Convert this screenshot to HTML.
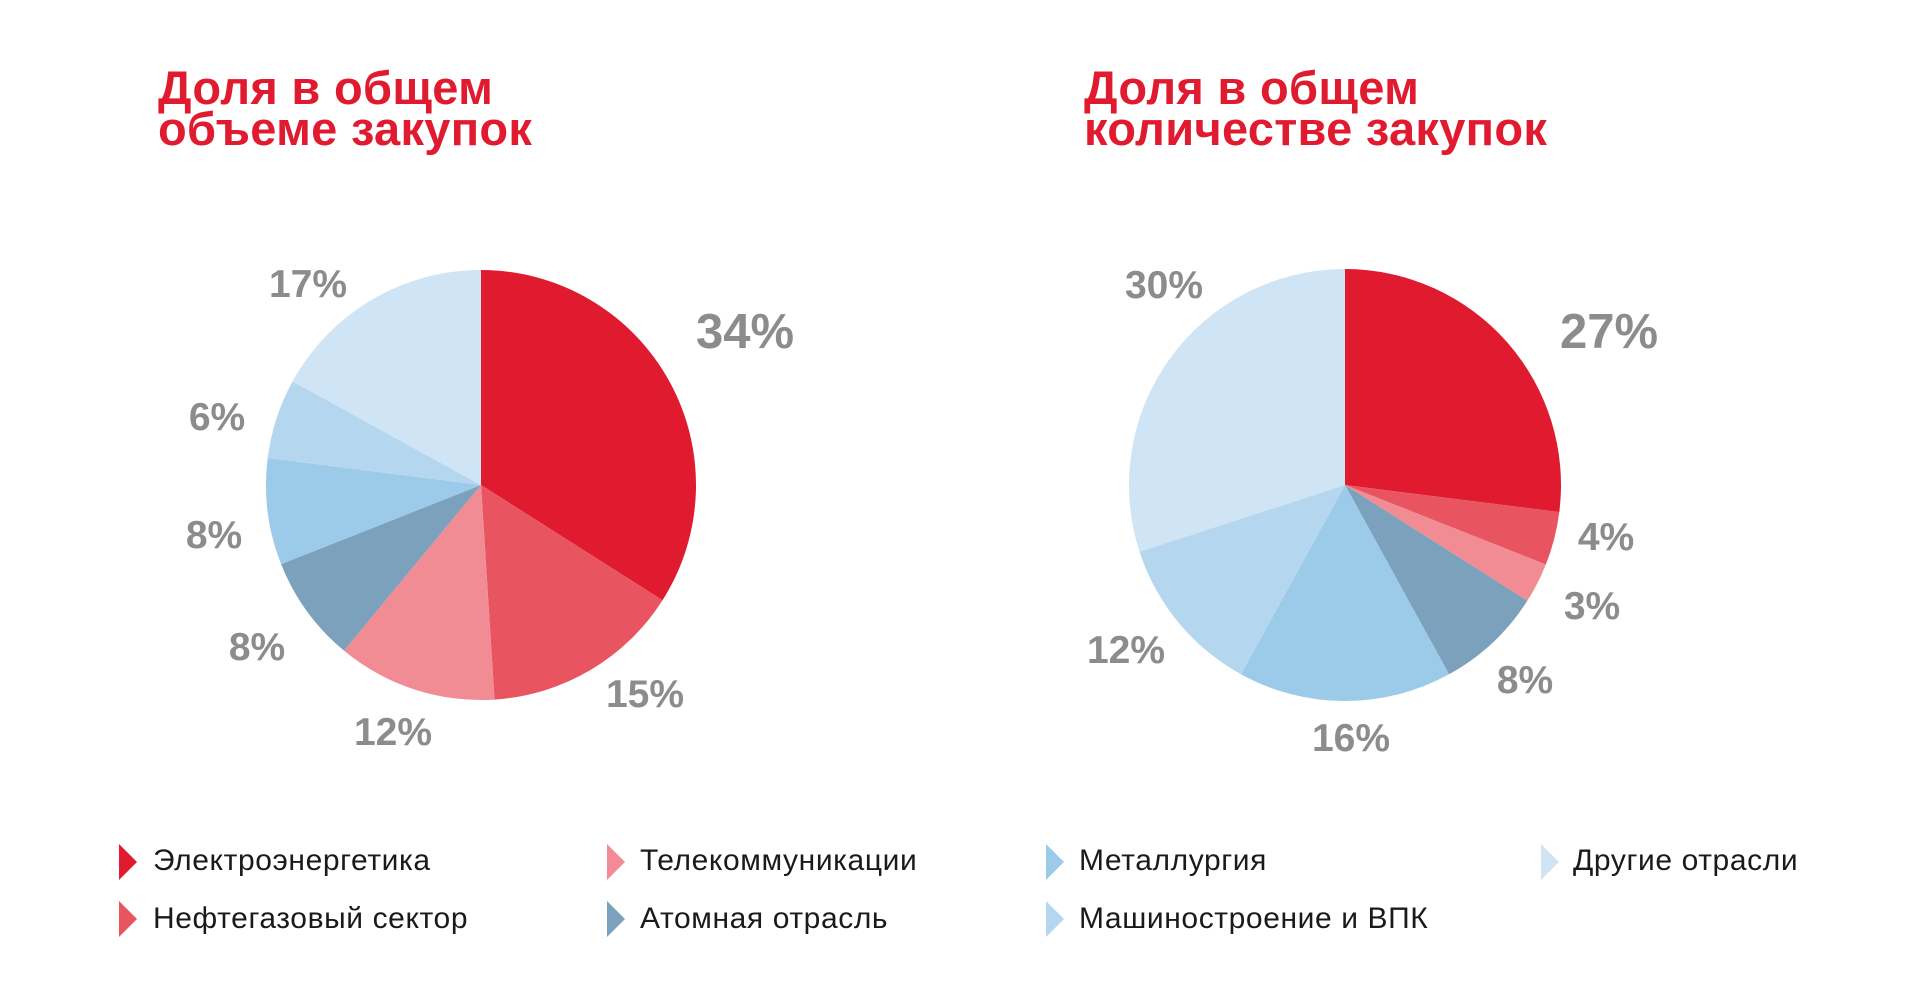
<!DOCTYPE html>
<html><head><meta charset="utf-8"><style>
html,body{margin:0;padding:0;background:#fff;}
svg{display:block}
.t{font-family:"Liberation Sans",sans-serif;font-weight:bold;fill:#e01a2f;font-size:47px;letter-spacing:0.3px}
.l{font-family:"Liberation Sans",sans-serif;font-weight:bold;fill:#8c8c8c;font-size:39px}
.g{font-family:"Liberation Sans",sans-serif;fill:#1a1a1a;font-size:30px;letter-spacing:0.6px}
</style></head><body>
<svg width="1917" height="986" viewBox="0 0 1917 986" xmlns="http://www.w3.org/2000/svg">
<text class="t" x="158" y="104">Доля в общем</text>
<text class="t" x="158" y="145">объеме закупок</text>
<text class="t" x="1084" y="104">Доля в общем</text>
<text class="t" x="1084" y="145">количестве закупок</text>
<g id="p1"></g><g id="p2"></g>
<text class="l" x="308" y="297" text-anchor="middle">17%</text>
<text class="l" x="745" y="348" text-anchor="middle" style="font-size:49px">34%</text>
<text class="l" x="217" y="430" text-anchor="middle">6%</text>
<text class="l" x="214" y="548" text-anchor="middle">8%</text>
<text class="l" x="257" y="660" text-anchor="middle">8%</text>
<text class="l" x="393" y="745" text-anchor="middle">12%</text>
<text class="l" x="645" y="707" text-anchor="middle">15%</text>
<text class="l" x="1164" y="298" text-anchor="middle">30%</text>
<text class="l" x="1609" y="348" text-anchor="middle" style="font-size:49px">27%</text>
<text class="l" x="1606" y="550" text-anchor="middle">4%</text>
<text class="l" x="1592" y="619" text-anchor="middle">3%</text>
<text class="l" x="1525" y="693" text-anchor="middle">8%</text>
<text class="l" x="1351" y="751" text-anchor="middle">16%</text>
<text class="l" x="1126" y="663" text-anchor="middle">12%</text>
<polygon points="119,844 137,862 119,880" fill="#e01a2f"/>
<polygon points="119,901 137,919 119,937" fill="#e85561"/>
<polygon points="607,844 625,862 607,880" fill="#f18c95"/>
<polygon points="607,901 625,919 607,937" fill="#7ba1bc"/>
<polygon points="1046,844 1064,862 1046,880" fill="#9bcbe9"/>
<polygon points="1046,901 1064,919 1046,937" fill="#b4d7ef"/>
<polygon points="1541,844 1559,862 1541,880" fill="#cfe4f4"/>
<text class="g" x="153" y="870">Электроэнергетика</text>
<text class="g" x="153" y="928">Нефтегазовый сектор</text>
<text class="g" x="640" y="870">Телекоммуникации</text>
<text class="g" x="640" y="928">Атомная отрасль</text>
<text class="g" x="1079" y="870">Металлургия</text>
<text class="g" x="1079" y="928">Машиностроение и ВПК</text>
<text class="g" x="1573" y="870">Другие отрасли</text>
</svg>
<script>
var C=["#e01a2f","#e85561","#f18c95","#7ba1bc","#9bcbe9","#b4d7ef","#cfe4f4"];
function pie(id,cx,cy,r,v){var g=document.getElementById(id),a=0,s="";
for(var i=0;i<v.length;i++){var b=a+v[i]*3.6;
var x1=cx+r*Math.sin(a*Math.PI/180),y1=cy-r*Math.cos(a*Math.PI/180),
x2=cx+r*Math.sin(b*Math.PI/180),y2=cy-r*Math.cos(b*Math.PI/180);
s+='<path d="M'+cx+','+cy+' L'+x1+','+y1+' A'+r+','+r+' 0 '+(b-a>180?1:0)+' 1 '+x2+','+y2+' Z" fill="'+C[i]+'"/>';a=b;}
g.innerHTML=s;}
pie("p1",481,485,215,[34,15,12,8,8,6,17]);
pie("p2",1345,485,216,[27,4,3,8,16,12,30]);
</script>
</body></html>
